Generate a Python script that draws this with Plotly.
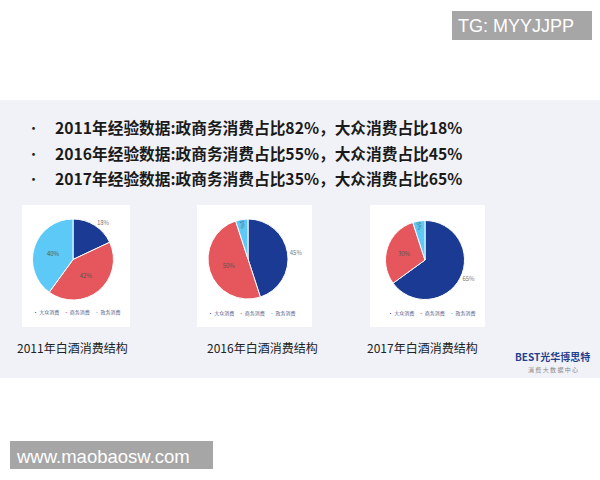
import plotly.graph_objects as go

labels = ["大众消费", "商务消费", "政务消费"]
colors = ["#1b3a93", "#e5575c", "#5cc9f7"]
years = ["2011", "2016", "2017"]
values_2011 = [18, 42, 40]
values_2016 = [45, 50, 5]
values_2017 = [65, 30, 5]
all_values = [values_2011, values_2016, values_2017]
text_positions = [["outside", "inside", "inside"],
                  ["outside", "inside", "inside"],
                  ["outside", "inside", "inside"]]
bullets = [
    "2011年经验数据:政商务消费占比82%，大众消费占比18%",
    "2016年经验数据:政商务消费占比55%，大众消费占比45%",
    "2017年经验数据:政商务消费占比35%，大众消费占比65%",
]
chart_titles = [y + "年白酒消费结构" for y in years]

W, H = 600, 480
def px(x):
    return x / W
def py(y):
    return 1 - y / H

# pie centers/radii (layout)
pies = [(73, 259.5, 40.5), (248, 259, 40), (425, 260, 39.5)]
cards = [(22, 205, 130, 327), (197, 205, 312, 327), (370, 205, 485, 327)]

fig = go.Figure()
for i, vals in enumerate(all_values):
    cx, cy, r = pies[i]
    fig.add_trace(go.Pie(
        labels=labels, values=vals, sort=False, direction="clockwise",
        rotation=0, marker=dict(colors=colors, line=dict(color="white", width=1)),
        textinfo="percent", texttemplate="%{percent:.0%}",
        textposition=text_positions[i],
        textfont=dict(size=6, color="#666666", family="Noto Sans CJK SC"),
        insidetextfont=dict(size=6, color="#555555"),
        outsidetextfont=dict(size=6, color="#777777"),
        domain=dict(x=[px(cx - r), px(cx + r)], y=[py(cy + r), py(cy - r)]),
        showlegend=False, hoverinfo="label+percent",
    ))

shapes = [
    dict(type="rect", xref="paper", yref="paper", x0=0, x1=1, y0=py(378), y1=py(100),
         fillcolor="#f1f2f7", line=dict(width=0), layer="below"),
]
for (x0, y0, x1, y1) in cards:
    shapes.append(dict(type="rect", xref="paper", yref="paper", x0=px(x0), x1=px(x1),
                       y0=py(y1), y1=py(y0), fillcolor="#ffffff", line=dict(width=0),
                       layer="below"))

annotations = []
for k, t in enumerate(bullets):
    yy = 128 + k * 25
    annotations.append(dict(x=px(33), y=py(yy), xref="paper", yref="paper", text="•",
                            showarrow=False, xanchor="center", yanchor="middle",
                            font=dict(size=13, color="#222222", family="Noto Sans CJK SC")))
    annotations.append(dict(x=px(53), y=py(yy), xref="paper", yref="paper", text="<b>" + t + "</b>",
                            showarrow=False, xanchor="left", yanchor="middle",
                            font=dict(size=15.7, color="#1a1a1a", family="Noto Sans CJK SC")))

legend_pos = [(31, 312), (206, 313), (386, 313)]
for i in range(3):
    parts = ["<span style='color:%s'>•</span> %s" % (c, l) for c, l in zip(colors, labels)]
    annotations.append(dict(x=px(legend_pos[i][0]), y=py(legend_pos[i][1]), xref="paper", yref="paper",
                            text="    ".join(parts), showarrow=False, xanchor="left", yanchor="middle",
                            font=dict(size=5, color="#556088", family="Noto Sans CJK SC")))

title_x = [15, 205, 365]
for i, t in enumerate(chart_titles):
    annotations.append(dict(x=px(title_x[i]), y=py(347), xref="paper", yref="paper", text=t,
                            showarrow=False, xanchor="left", yanchor="middle",
                            font=dict(size=12, color="#222222", family="Noto Sans CJK SC")))

# logo text
annotations.append(dict(x=px(552), y=py(356), xref="paper", yref="paper",
                        text="<b>BEST</b><b>光华博思特</b>", showarrow=False,
                        xanchor="center", yanchor="middle",
                        font=dict(size=10, color="#1f3f8f", family="Noto Sans CJK SC")))
annotations.append(dict(x=px(553), y=py(369), xref="paper", yref="paper",
                        text="消 费 大 数 据 中 心", showarrow=False,
                        xanchor="center", yanchor="middle",
                        font=dict(size=6, color="#888888", family="Noto Sans CJK SC")))

# watermark boxes (drawn as shapes + text)
shapes.append(dict(type="rect", xref="paper", yref="paper", x0=px(452), x1=px(592),
                   y0=py(40), y1=py(11), fillcolor="#a6a6a6", line=dict(width=0)))
shapes.append(dict(type="rect", xref="paper", yref="paper", x0=px(10), x1=px(213),
                   y0=py(469), y1=py(441), fillcolor="#a6a6a6", line=dict(width=0)))
annotations.append(dict(x=px(456), y=py(26), xref="paper", yref="paper", text="TG: MYYJJPP",
                        showarrow=False, xanchor="left", yanchor="middle",
                        font=dict(size=18, color="#ffffff", family="Liberation Sans")))
annotations.append(dict(x=px(14), y=py(456), xref="paper", yref="paper", text="www.maobaosw.com",
                        showarrow=False, xanchor="left", yanchor="middle",
                        font=dict(size=18.5, color="#ffffff", family="Liberation Sans")))

fig.update_layout(
    width=W, height=H, margin=dict(l=0, r=0, t=0, b=0),
    paper_bgcolor="#ffffff", plot_bgcolor="#ffffff",
    shapes=shapes, annotations=annotations,
    font=dict(family="Noto Sans CJK SC"),
)
fig.write_html("out.html", config={"displayModeBar": False},
               post_script="document.body.style.margin='0';")
